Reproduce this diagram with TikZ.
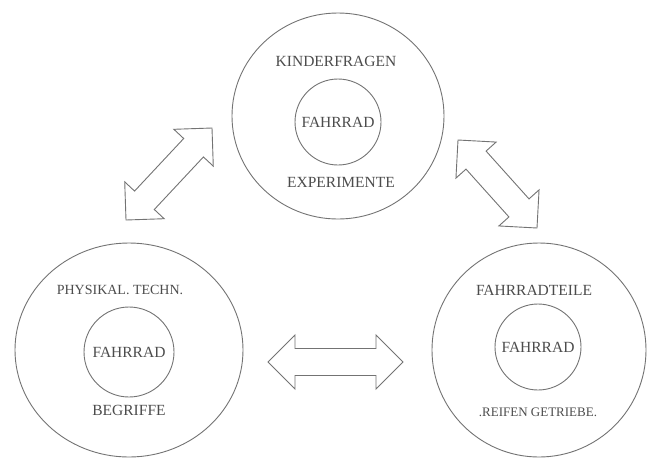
\documentclass[tikz,border=0pt]{standalone}
\usepackage{fontspec}
\setmainfont{Liberation Serif}
\usetikzlibrary{calc,shapes.geometric}
\definecolor{linec}{gray}{0.45}
\definecolor{textc}{gray}{0.3}
\tikzset{
  outerring/.style={ellipse, draw=linec, line width=0.9pt, inner sep=0pt},
  innerring/.style={circle, draw=linec, line width=0.9pt, inner sep=0pt, text=textc, font=\fontsize{15.5}{18}\selectfont},
  lbl/.style={text=textc, inner sep=0pt, font=\fontsize{15.5}{18}\selectfont},
  blockarrow/.style={draw=linec, line width=0.9pt, line join=miter, fill=white},
}
\newcommand{\dblarrow}[3]{%
  \coordinate (#1a) at ($(#2)!27pt!(#3)$);
  \coordinate (#1b) at ($(#3)!27pt!(#2)$);
  \draw[blockarrow] (#2) -- ($(#1a)!27pt!90:(#3)$) -- ($(#1a)!13.5pt!90:(#3)$)
    -- ($(#1b)!13.5pt!-90:(#2)$) -- ($(#1b)!27pt!-90:(#2)$) -- (#3)
    -- ($(#1b)!27pt!90:(#2)$) -- ($(#1b)!13.5pt!90:(#2)$)
    -- ($(#1a)!13.5pt!-90:(#3)$) -- ($(#1a)!27pt!-90:(#3)$) -- cycle;
}
\begin{document}
\begin{tikzpicture}[x=1pt,y=-1pt]
\useasboundingbox (0,0) rectangle (656,459);
% top
\node[outerring, minimum width=212pt, minimum height=206pt] (topo) at (338,116) {};
\node[innerring, minimum size=86pt] (topi) at (338,122) {FAHRRAD};
\node[lbl] (kinder) at (336,61) {KINDERFRAGEN};
\node[lbl] (exper) at (341,182) {EXPERIMENTE};
% bottom left
\node[outerring, minimum width=228pt, minimum height=214pt] (lefto) at (129,350) {};
\node[innerring, minimum size=90pt] (lefti) at (129,352) {FAHRRAD};
\node[lbl, font=\fontsize{14}{16}\selectfont] (phys) at (120,290) {PHYSIKAL. TECHN.};
\node[lbl] (begr) at (129,410) {BEGRIFFE};
% bottom right
\node[outerring, minimum width=214pt, minimum height=214pt] (righto) at (539,350) {};
\node[innerring, minimum size=86pt] (righti) at (538,347) {FAHRRAD};
\node[lbl] (teile) at (534,290) {FAHRRADTEILE};
\node[lbl, font=\fontsize{13}{15}\selectfont] (reifen) at (538,412) {.REIFEN GETRIEBE.};
% arrows
\coordinate (la1) at (126,220);
\coordinate (la2) at (212,128);
\coordinate (ra1) at (458,140);
\coordinate (ra2) at (537,228);
\coordinate (ha1) at (268,362);
\coordinate (ha2) at (403,362);
\dblarrow{la}{la1}{la2}
\dblarrow{ra}{ra1}{ra2}
\dblarrow{ha}{ha1}{ha2}
\end{tikzpicture}
\end{document}
